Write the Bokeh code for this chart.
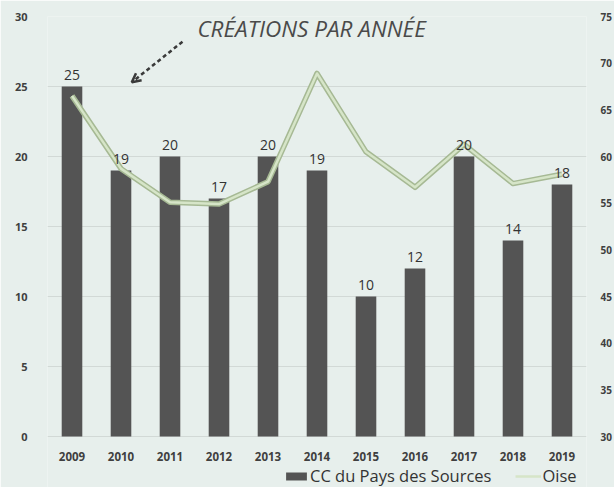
from bokeh.plotting import figure
from bokeh.models import (FactorRange, Range1d, LinearAxis, FixedTicker, ColumnDataSource,
                          LabelSet, Label, Arrow, OpenHead, Legend, LegendItem)
from bokeh.core.properties import value
from bokeh.embed import file_html
from bokeh.resources import INLINE

years = ["2009", "2010", "2011", "2012", "2013", "2014", "2015", "2016", "2017", "2018", "2019"]
cc_pays_sources = [25, 19, 20, 17, 20, 19, 10, 12, 20, 14, 18]
oise = [66.5, 58.7, 55.1, 54.9, 57.3, 68.9, 60.5, 56.7, 61.3, 57.1, 58.1]
left_ticks = [0, 5, 10, 15, 20, 25, 30]
right_ticks = [30, 35, 40, 45, 50, 55, 60, 65, 70, 75]

BG = "#e7efec"
FONT = "Open Sans"
TXT = "#3f3f3f"

src = ColumnDataSource(data=dict(years=years, cc=cc_pays_sources, oise=oise,
                                 lab=[str(v) for v in cc_pays_sources]))

# frame extends below 0 so that the axis labels and legend sit inside it
p = figure(width=614, height=487, x_range=FactorRange(factors=years, range_padding=0),
           y_range=Range1d(-3.64, 30), output_backend="svg", toolbar_location=None,
           background_fill_color=BG, border_fill_color=BG, outline_line_color=None)
p.min_border_left = 47
p.min_border_right = 24
p.min_border_top = 16
p.min_border_bottom = 0
p.extra_y_ranges = {"right": Range1d(24.54, 75)}

bars = p.vbar(x="years", top="cc", width=0.42, source=src, color="#545454", line_color=None)
p.line(x="years", y="oise", source=src, y_range_name="right", line_color="#a6b994", line_width=5.5,
       line_join="round")
oline = p.line(x="years", y="oise", source=src, y_range_name="right", line_color="#d6e5c8",
               line_width=2.5, line_join="round")

labels = LabelSet(x="years", y="cc", text="lab", source=src, y_offset=7, text_align="center",
                  text_baseline="bottom", text_font=value(FONT), text_font_size="14px",
                  text_color="#333333")
p.add_layout(labels)

# axes
p.yaxis.ticker = FixedTicker(ticks=left_ticks)
ra = LinearAxis(y_range_name="right", ticker=FixedTicker(ticks=right_ticks))
p.add_layout(ra, "right")
for ax in [p.yaxis[0], ra]:
    ax.axis_line_color = None
    ax.major_tick_line_color = None
    ax.minor_tick_line_color = None
    ax.major_label_text_font = FONT
    ax.major_label_text_font_size = "11px"
    ax.major_label_text_font_style = "bold"
    ax.major_label_text_color = TXT
ra.major_label_standoff = 8
ra.major_label_text_font_size = "10px"
p.yaxis[0].major_label_standoff = 14
p.xaxis.fixed_location = 0
p.xaxis.axis_line_color = None
p.xaxis.major_tick_line_color = None
p.xaxis.major_label_text_font = FONT
p.xaxis.major_label_text_font_size = "11.5px"
p.xaxis.major_label_text_font_style = "bold"
p.xaxis.major_label_text_color = TXT
p.xaxis.major_label_standoff = 9
p.xgrid.grid_line_color = None
p.ygrid.grid_line_color = "#d2d9d6"
p.ygrid.grid_line_width = 1

# title inside plot
title = Label(x=5.39, y=29.14, text="CRÉATIONS PAR ANNÉE", text_align="center",
              text_baseline="middle", text_font=FONT, text_font_size="22.5px",
              text_font_style="italic", text_color="#4a4a4a")
p.add_layout(title)
arrow = Arrow(x_start=2.755, y_start=28.2, x_end=1.72, y_end=25.3,
              line_color="#3a3a3a", line_width=2.5, line_dash="4 3",
              end=OpenHead(size=9, line_color="#3a3a3a", line_width=2.5))
p.add_layout(arrow)

legend = Legend(items=[LegendItem(label="CC du Pays des Sources", renderers=[bars]),
                       LegendItem(label="Oise", renderers=[oline])],
                orientation="horizontal", location=(236, 0), background_fill_alpha=0,
                border_line_color=None, label_text_font=FONT, label_text_font_size="16.5px",
                label_text_color="#333333", glyph_width=26, glyph_height=10, spacing=24,
                padding=1, margin=0, label_standoff=1)
p.add_layout(legend)

open("out.html", "w").write(file_html(p, INLINE))
